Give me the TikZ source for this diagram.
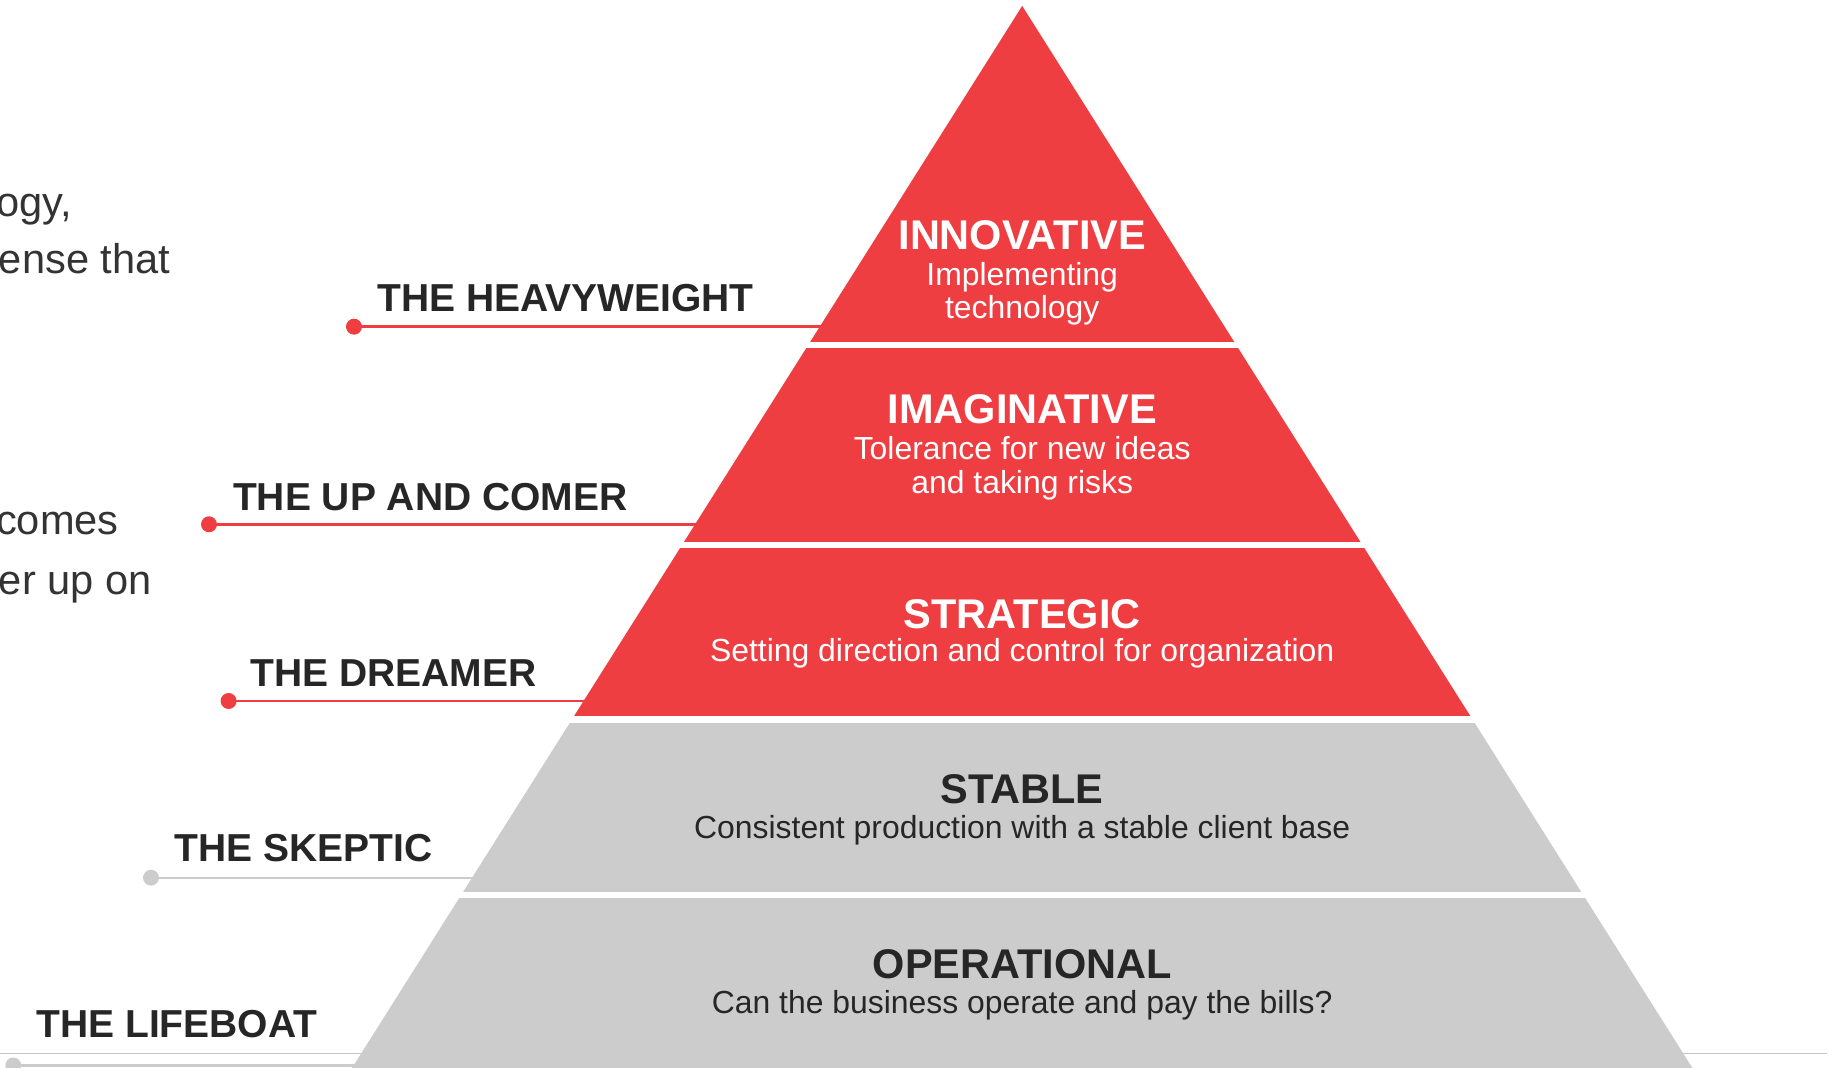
\documentclass[tikz,border=0pt]{standalone}
\usepackage{fontspec}
\setmainfont{Liberation Sans}
\definecolor{pred}{HTML}{EF3E42}
\definecolor{pgray}{HTML}{CCCCCC}
\definecolor{ptext}{HTML}{262626}
\definecolor{sidetext}{HTML}{333333}
\definecolor{lgray}{HTML}{C4C4C4}
\begin{document}
\begin{tikzpicture}[x=0.5pt,y=-0.5pt,
  title/.style={font=\fontsize{20.75}{22}\selectfont\bfseries, inner sep=0, anchor=base},
  sub/.style={font=\fontsize{15.95}{17}\selectfont, inner sep=0, anchor=base},
  lab/.style={font=\fontsize{19.5}{21}\selectfont\bfseries, text=ptext, inner sep=0, anchor=base west},
  side/.style={font=\fontsize{20.8}{22}\selectfont, text=sidetext, inner sep=0, anchor=base east},
  dotr/.style={circle, fill=pred, minimum size=8pt, inner sep=0},
  dotg/.style={circle, fill=pgray, minimum size=8pt, inner sep=0},
  conr/.style={draw=pred, line width=1.3pt},
  cong/.style={draw=pgray, line width=1.1pt}]
\useasboundingbox (0,0) rectangle (1838,1068);
\clip (0,0) rectangle (1838,1068);

% background rule
\coordinate (bgL) at (0,1053.3);
\coordinate (bgR) at (1827,1053.3);
\draw[lgray, line width=0.7pt] (bgL) -- (bgR);

% connector dots and lines
\node[dotr] (d1) at (354,326.7) {};
\coordinate (e1) at (830,326.7);
\draw[conr] (d1.center) -- (e1);
\node[dotr] (d2) at (209,524.3) {};
\coordinate (e2) at (705,524.3);
\draw[conr] (d2.center) -- (e2);
\node[dotr] (d3) at (228.6,701) {};
\coordinate (e3) at (594,701);
\draw[conr] (d3.center) -- (e3);
\node[dotg] (d4) at (151,877.7) {};
\coordinate (e4) at (482,877.7);
\draw[cong] (d4.center) -- (e4);
\node[dotg] (d5) at (13.3,1065.5) {};
\coordinate (e5) at (363,1065.5);
\draw[cong] (d5.center) -- (e5);

% pyramid
\coordinate (apex) at (1022.2,5.9);
\coordinate (bl) at (331.8,1100);
\coordinate (br) at (1712.6,1100);
\begin{scope}
  \clip (apex) -- (br) -- (bl) -- cycle;
  \fill[pred] (0,0) rectangle (1838,342.3);
  \fill[pred] (0,348.3) rectangle (1838,541.6);
  \fill[pred] (0,547.6) rectangle (1838,716.2);
  \fill[pgray] (0,722.6) rectangle (1838,892.5);
  \fill[pgray] (0,898.5) rectangle (1838,1100);
\end{scope}

% band texts
\node[title, text=white] (t1) at (1022.2,249.3) {INNOVATIVE};
\node[sub, text=white] (s1a) at (1022.2,285.5) {Implementing};
\node[sub, text=white] (s1b) at (1022.2,318.5) {technology};
\node[title, text=white] (t2) at (1022.2,424) {IMAGINATIVE};
\node[sub, text=white] (s2a) at (1022.2,460) {Tolerance for new ideas};
\node[sub, text=white] (s2b) at (1022.2,493.5) {and taking risks};
\node[title, text=white] (t3) at (1022.2,628.3) {STRATEGIC};
\node[sub, text=white] (s3) at (1022.2,661.7) {Setting direction and control for organization};
\node[title, text=ptext] (t4) at (1022.2,803.3) {STABLE};
\node[sub, text=ptext] (s4) at (1022.2,838.3) {Consistent production with a stable client base};
\node[title, text=ptext] (t5) at (1022.2,978.5) {OPERATIONAL};
\node[sub, text=ptext] (s5) at (1022.2,1014) {Can the business operate and pay the bills?};

% labels
\node[lab] (l1) at (377,311.7) {THE HEAVYWEIGHT};
\node[lab] (l2) at (232.7,510.7) {THE UP AND COMER};
\node[lab] (l3) at (250,686.5) {THE DREAMER};
\node[lab] (l4) at (174,861.7) {THE SKEPTIC};
\node[lab] (l5) at (36,1037.7) {THE LIFEBOAT};

% cut-off side text
\node[side] (p1) at (72.5,216.7) {ogy,};
\node[side] (p2) at (170.5,273.3) {ense that};
\node[side] (p3) at (119,535) {comes};
\node[side] (p4) at (152,595) {er up on};
\end{tikzpicture}
\end{document}
